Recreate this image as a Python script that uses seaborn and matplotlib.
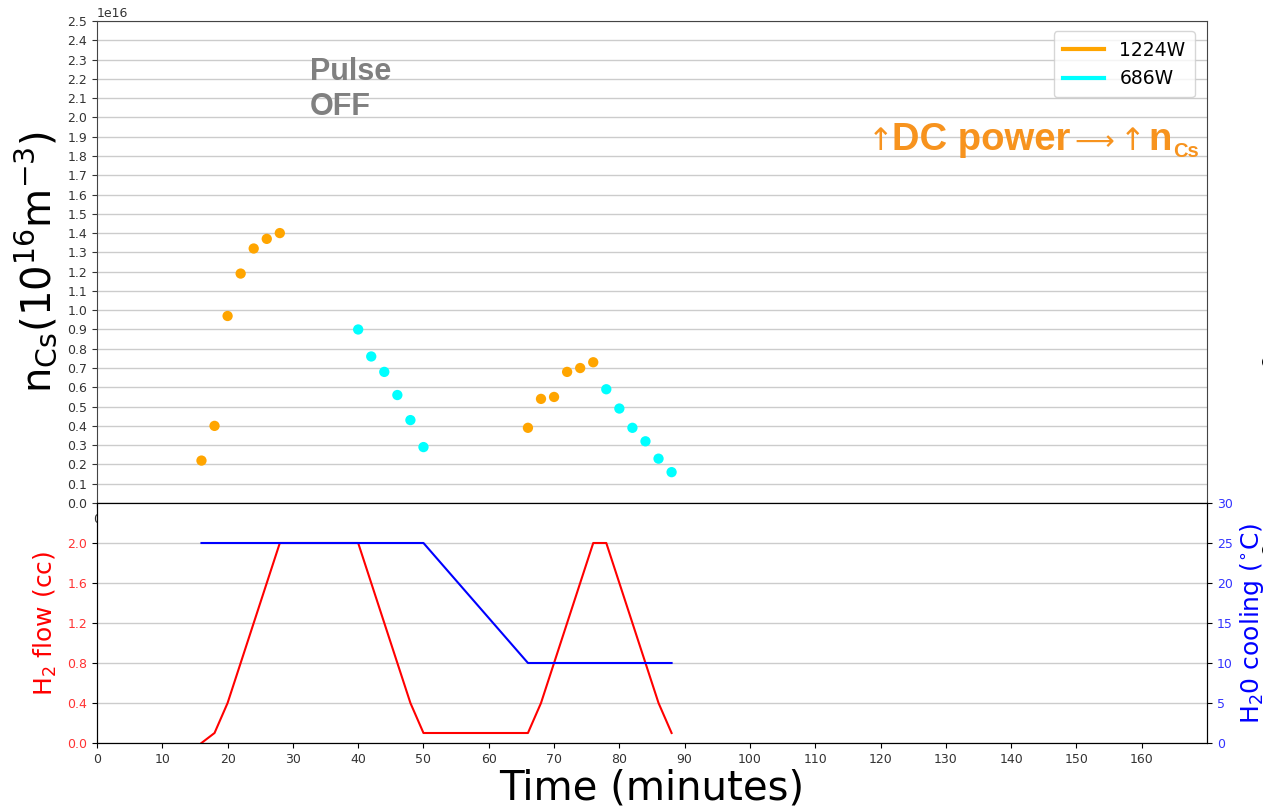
import numpy as np
import pandas as pd
import matplotlib
matplotlib.use("Agg")
import matplotlib.pyplot as plt
from matplotlib.lines import Line2D
import seaborn as sns

# ---------------- data ----------------
t_1224 = [16, 18, 20, 22, 24, 26, 28, 66, 68, 70, 72, 74, 76]
n_1224 = [0.22, 0.40, 0.97, 1.19, 1.32, 1.37, 1.40, 0.39, 0.54, 0.55, 0.68, 0.70, 0.73]
t_686 = [40, 42, 44, 46, 48, 50, 78, 80, 82, 84, 86, 88]
n_686 = [0.90, 0.76, 0.68, 0.56, 0.43, 0.29, 0.59, 0.49, 0.39, 0.32, 0.23, 0.16]
density_scale = 1e16

t_flow = [16, 18, 20, 28, 40, 48, 50, 66, 68, 76, 78, 86, 88]
h2_flow = [0.0, 0.1, 0.4, 2.0, 2.0, 0.4, 0.1, 0.1, 0.4, 2.0, 2.0, 0.4, 0.1]

t_cool = [16, 50, 66, 88]
h2o_cool = [25, 25, 10, 10]

power_labels = ["1224W", "686W"]
power_colors = {"1224W": "#ffa500", "686W": "#00ffff"}

x_ticks = list(range(0, 170, 10))
flow_ticks = [0.0, 0.4, 0.8, 1.2, 1.6, 2.0]
cool_ticks = [0, 5, 10, 15, 20, 25, 30]

df_n = pd.DataFrame({
    "time": t_1224 + t_686,
    "n": [v * density_scale for v in n_1224 + n_686],
    "power": ["1224W"] * len(t_1224) + ["686W"] * len(t_686),
})
df_flow = pd.DataFrame({"time": t_flow, "flow": h2_flow})
df_cool = pd.DataFrame({"time": t_cool, "cool": h2o_cool})

# ---------------- figure ----------------
W, H = 1263, 810
fig = plt.figure(figsize=(W / 100, H / 100), dpi=100)
fig.patch.set_facecolor("white")

L, R = 97, 1207
ax_top = fig.add_axes([L / W, 1 - 503 / H, (R - L) / W, (503 - 21) / H])
ax_bot = fig.add_axes([L / W, 1 - 743 / H, (R - L) / W, (743 - 503) / H], zorder=2)
ax_bot.set_facecolor("white")

# ---- top panel: Cs density ----
sns.scatterplot(data=df_n, x="time", y="n", hue="power", palette=power_colors,
                s=55, linewidth=0, legend=False, ax=ax_top, zorder=3)
ax_top.set_xlim(0, 170)
ax_top.set_ylim(0, 2.5e16)
ax_top.set_yticks(np.arange(0, 2.51, 0.1) * density_scale)
ax_top.set_xticks(x_ticks)
ax_top.yaxis.grid(True, color="#cccccc", lw=1)
ax_top.set_axisbelow(True)
ax_top.tick_params(labelsize=9, colors="#333333", labelcolor="#333333")
ax_top.yaxis.get_offset_text().set_fontsize(9)
ax_top.set_xlabel("")
ax_top.set_ylabel(r"n$_{\mathrm{Cs}}$(10$^{16}$m$^{-3}$)", fontsize=29, labelpad=6)
for sp in ["top", "right", "left"]:
    ax_top.spines[sp].set_color("#444444")

handles = [Line2D([0], [0], color=power_colors[p], lw=3) for p in power_labels]
leg = ax_top.legend(handles, power_labels, loc="upper right", fontsize=13.5,
                    frameon=True, handlelength=2.2, borderpad=0.5,
                    bbox_to_anchor=(0.9975, 0.998))
leg.get_frame().set_edgecolor("#cccccc")

ax_top.text(0.192, 0.925, "Pulse\nOFF", transform=ax_top.transAxes, ha="left", va="top",
            fontsize=22, fontweight="bold", color="#808080", family="Liberation Sans",
            linespacing=1.2)

# ---- "↑DC power → ↑n_Cs" annotation, built from chained pieces ----
orange = "#f7931e"
base_y = 0.733
pieces = [
    ("↑", 22, "normal", "DejaVu Sans", 0, 0),
    ("DC power", 27.5, "bold", "Liberation Sans", -1, 0),
    ("⟶", 20, "normal", "DejaVu Sans", 3, 0),
    ("↑", 22, "normal", "DejaVu Sans", 4, 0),
    ("n", 27.5, "bold", "Liberation Sans", 2, 0),
    ("Cs", 14.5, "bold", "Liberation Sans", 1, -5),
]
prev = None
for txt, fs, fw, fam, dx, dy in pieces:
    if prev is None:
        prev = ax_top.text(0.6946, base_y, txt, transform=ax_top.transAxes, ha="left",
                           va="baseline", fontsize=fs, fontweight=fw, color=orange,
                           family=[fam, "DejaVu Sans"])
    else:
        prev = ax_top.annotate(txt, xy=(1, base_y), xycoords=(prev, "axes fraction"),
                               xytext=(dx, dy), textcoords="offset points", ha="left",
                               va="baseline", fontsize=fs, fontweight=fw, color=orange,
                               family=[fam, "DejaVu Sans"])

# ---- bottom panel: H2 flow and cooling ----
sns.lineplot(data=df_flow, x="time", y="flow", color="red", lw=1.5, ax=ax_bot)
ax_bot.set_xlim(0, 170)
ax_bot.set_ylim(0, 2.4)
ax_bot.set_yticks(flow_ticks)
ax_bot.set_xticks(x_ticks)
ax_bot.yaxis.grid(True, color="#cccccc", lw=1)
ax_bot.set_axisbelow(True)
ax_bot.tick_params(axis="x", labelsize=9, labelcolor="#333333")
ax_bot.tick_params(axis="y", labelsize=9, labelcolor="#ff3333")
ax_bot.set_ylabel(r"H$_2$ flow (cc)", color="red", fontsize=18, labelpad=6)
ax_bot.set_xlabel("Time (minutes)", fontsize=29, labelpad=2)

ax_r = ax_bot.twinx()
ax_r.set_zorder(3)
ax_r.patch.set_visible(False)
sns.lineplot(data=df_cool, x="time", y="cool", color="blue", lw=1.5, ax=ax_r)
ax_r.set_ylim(0, 30)
ax_r.set_yticks(cool_ticks)
ax_r.tick_params(axis="y", labelsize=9, labelcolor="#3333ff")
ax_r.set_ylabel(r"H$_2$0 cooling ($^{\circ}$C)", color="blue", fontsize=18, labelpad=4)
ax_r.set_xlabel("")
ax_top.spines["bottom"].set_color("black")
ax_bot.spines["top"].set_color("black")

# slide bullet remnants at the right edge
fig.text(1269 / W, 1 - 362 / H, "●", fontsize=13, ha="center", va="center", color="black")
fig.text(1269 / W, 1 - 550 / H, "●", fontsize=13, ha="center", va="center", color="black")

fig.savefig("out.png", dpi=100)
